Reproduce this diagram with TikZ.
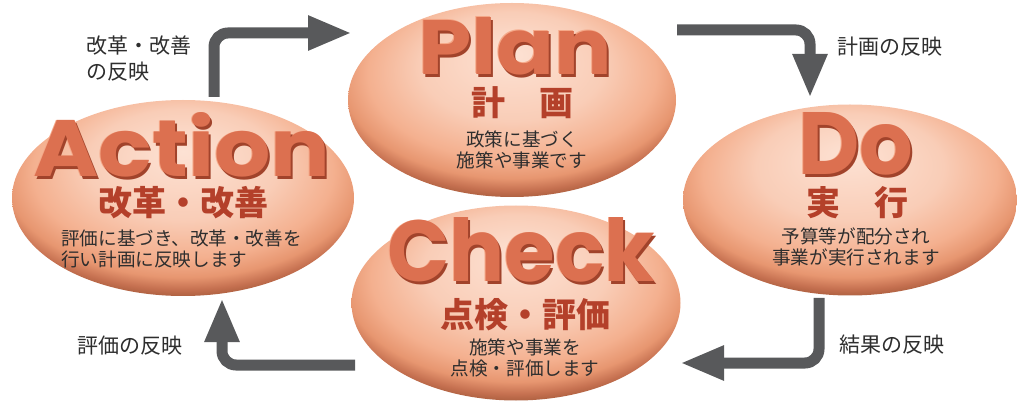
\documentclass[tikz,border=0pt]{standalone}
\usepackage{fontspec}
\usetikzlibrary{shapes.geometric,arrows.meta}
\newfontfamily\jp{Noto Sans CJK JP}
\newfontfamily\titlefont{Poppins}
\definecolor{arrowgray}{HTML}{58595B}
\definecolor{subred}{HTML}{B4402A}
\definecolor{bodytext}{HTML}{2E2E2E}
\definecolor{ttl}{HTML}{DC7050}
\definecolor{ttlshadow}{HTML}{A1432B}
\definecolor{ttllight}{HTML}{F5A888}
\definecolor{pk0}{HTML}{FDE2D4}
\definecolor{pk1}{HTML}{F9CDB7}
\definecolor{pk2}{HTML}{F4B08F}
\definecolor{pk3}{HTML}{E79670}
\definecolor{pk4}{HTML}{C57050}
\definecolor{pk5}{HTML}{9C5535}
\pgfdeclareradialshading{peach}{\pgfpoint{0bp}{12bp}}{color(0bp)=(pk0); color(14bp)=(pk1); color(22bp)=(pk2); color(26bp)=(pk3); color(28.5bp)=(pk4); color(31bp)=(pk5); color(50bp)=(pk5)}
\newcommand\titlebox[3]{\resizebox{#1}{#2}{\titlefont\bfseries #3}}
\newcommand\bigtitle[3]{%
  \makebox[0pt][l]{\hspace{-1pt}\raisebox{1pt}{\color{ttllight}\titlebox{#1}{#2}{#3}}}%
  \makebox[0pt][l]{\hspace{2pt}\raisebox{-2pt}{\color{ttlshadow}\titlebox{#1}{#2}{#3}}}%
  {\color{ttl}\titlebox{#1}{#2}{#3}}}
\tikzset{
  ell/.style={shape=ellipse, shading=peach, inner sep=0pt, outer sep=0pt},
  ttlnode/.style={inner sep=0pt, anchor=base west},
  sub/.style={inner sep=0pt, text=subred, font=\jp\bfseries\fontsize{34}{38}\selectfont},
  body/.style={inner sep=0pt, text=bodytext, font=\jp\fontsize{18.6}{21}\selectfont},
  lbl/.style={inner sep=0pt, text=bodytext, font=\jp\fontsize{21}{26}\selectfont},
  flow/.style={draw=arrowgray, line width=11pt, rounded corners=14pt, -{Triangle[length=44pt,width=32pt]}}
}
\begin{document}
\begin{tikzpicture}[x=1pt,y=-1pt]
\useasboundingbox (0,0) rectangle (1017,403);
% ellipses
\node[ell, minimum width=342pt, minimum height=196pt] (action) at (183,198) {};
\node[ell, minimum width=328pt, minimum height=194pt] (plan) at (512,100) {};
\node[ell, minimum width=334pt, minimum height=191pt] (do) at (850,200) {};
\node[ell, minimum width=329pt, minimum height=195pt] (check) at (516,303) {};
% titles
\node[ttlnode] (planT) at (418,75) {\bigtitle{194pt}{57pt}{Plan}};
\node[ttlnode] (actionT) at (33,177) {\bigtitle{297pt}{64pt}{Action}};
\node[ttlnode] (doT) at (798,175) {\bigtitle{115pt}{62pt}{Do}};
\node[ttlnode] (checkT) at (387,282) {\bigtitle{268pt}{64pt}{Check}};
% subtitles
\node[sub] (planS) at (522,103) {計\hspace{1em}画};
\node[sub] (actionS) at (183,203) {改革・改善};
\node[sub] (doS) at (857,203) {実\hspace{1em}行};
\node[sub] (checkS) at (525,315) {点検・評価};
% body texts
\node[body, align=center] (planB) at (522,150) {政策に基づく\\施策や事業です};
\node[body, align=left, anchor=west] (actionB) at (61,249) {評価に基づき、改革・改善を\\行い計画に反映します};
\node[body, align=center] (doB) at (856,247) {予算等が配分され\\事業が実行されます};
\node[body, align=center] (checkB) at (525,358) {施策や事業を\\点検・評価します};
% connector end points
\coordinate (ap0) at (214,97);
\coordinate (ap1) at (352,33);
\coordinate (pd0) at (677,30);
\coordinate (pd1) at (810,98);
\coordinate (dc0) at (819,298);
\coordinate (dc1) at (680,363);
\coordinate (ca0) at (355,365);
\coordinate (ca1) at (222,298);
% connectors
\draw[flow] (ap0) |- (ap1);
\draw[flow] (pd0) -| (pd1);
\draw[flow] (dc0) |- (dc1);
\draw[flow] (ca0) -| (ca1);
% connector labels
\node[lbl, align=left, anchor=north west] (apL) at (86,36) {改革・改善\\の反映};
\node[lbl] (pdL) at (890,47) {計画の反映};
\node[lbl] (dcL) at (892,345) {結果の反映};
\node[lbl] (caL) at (130,346) {評価の反映};
\end{tikzpicture}
\end{document}
